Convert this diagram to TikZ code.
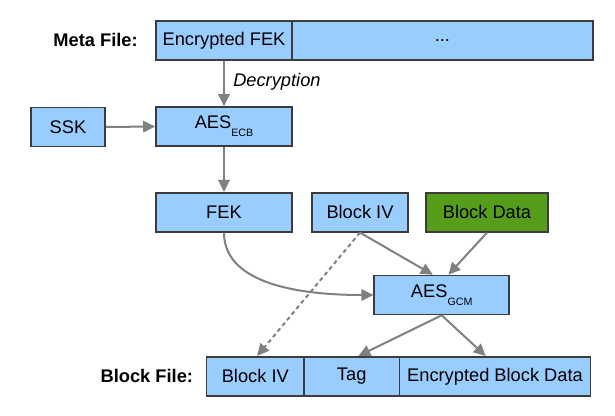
\documentclass[tikz,border=0pt]{standalone}
\usepackage{fontspec}
\setmainfont{Liberation Sans}
\usetikzlibrary{arrows.meta}
\definecolor{boxblue}{HTML}{99CCFF}
\definecolor{boxgreen}{HTML}{579D1C}
\definecolor{boxline}{HTML}{3C3C3C}
\definecolor{arrowgray}{HTML}{808080}
\newcommand{\subtxt}[1]{\raisebox{-0.45em}{\fontsize{8}{8}\selectfont #1}}
\begin{document}
\begin{tikzpicture}[x=0.75pt,y=-0.75pt,
  font=\fontsize{13.7}{16}\selectfont,
  blk/.style={draw=boxline,line width=1.2pt,fill=boxblue,rectangle,inner sep=0pt,minimum height=29.25pt},
  gblk/.style={blk,fill=boxgreen},
  lbl/.style={font=\fontsize{13.7}{16}\selectfont\bfseries,inner sep=0pt},
  conn/.style={draw=arrowgray,line width=1.5pt,-{Triangle[length=9pt,width=8.5pt]}},
  dconn/.style={conn,dash pattern=on 3pt off 2.5pt}]
\useasboundingbox (0,0) rectangle (615,416);
% meta file
\node[lbl,anchor=east] (metalbl) at (138,40) {Meta File:};
\node[blk,minimum width=102pt] (encfek) at (224,40.3) {Encrypted FEK};
\node[blk,minimum width=225.75pt] (dots) at (442.4,40.3) {...};
% key path
\node[blk,minimum width=55.5pt] (ssk) at (68,127) {SSK};
\node[blk,minimum width=102pt] (aesecb) at (224,126.5) {AES\subtxt{ECB}};
\node[blk,minimum width=102pt] (fek) at (224,212.3) {FEK};
\node[blk,minimum width=72pt] (biv) at (360,212.3) {Block IV};
\node[gblk,minimum width=91.5pt] (bdata) at (487,212.3) {Block Data};
\node[blk,minimum width=101.25pt] (aesgcm) at (441.7,295) {AES\subtxt{GCM}};
% block file
\node[lbl,anchor=east] (blklbl) at (193.3,376) {Block File:};
\node[blk,minimum width=73pt] (fbiv) at (255.3,376.3) {Block IV};
\node[blk,minimum width=71.5pt] (ftag) at (351.7,376.3) {Tag};
\node[blk,minimum width=143.5pt] (fenc) at (495,376.3) {Encrypted Block Data};
% decryption label
\node[anchor=west,font=\fontsize{13.7}{16}\selectfont\itshape,inner sep=0pt] (declbl) at (233,82) {Decryption};
% connectors
\draw[conn] (encfek.south) -- (aesecb.north);
\draw[conn] (ssk.east) -- (aesecb.west);
\draw[conn] (aesecb.south) -- (fek.north);
\draw[conn] (fek.south) to[out=-90,in=180,looseness=0.9] (aesgcm.west);
\draw[conn] (biv.south) -- ([xshift=-6.7]aesgcm.north);
\draw[conn] (bdata.south) -- ([xshift=5]aesgcm.north);
\draw[dconn] (biv.south) -- ([xshift=1.4]fbiv.north);
\draw[conn] (aesgcm.south) -- ([xshift=5]ftag.north);
\draw[conn] (aesgcm.south) -- ([xshift=-7]fenc.north);
\end{tikzpicture}
\end{document}
